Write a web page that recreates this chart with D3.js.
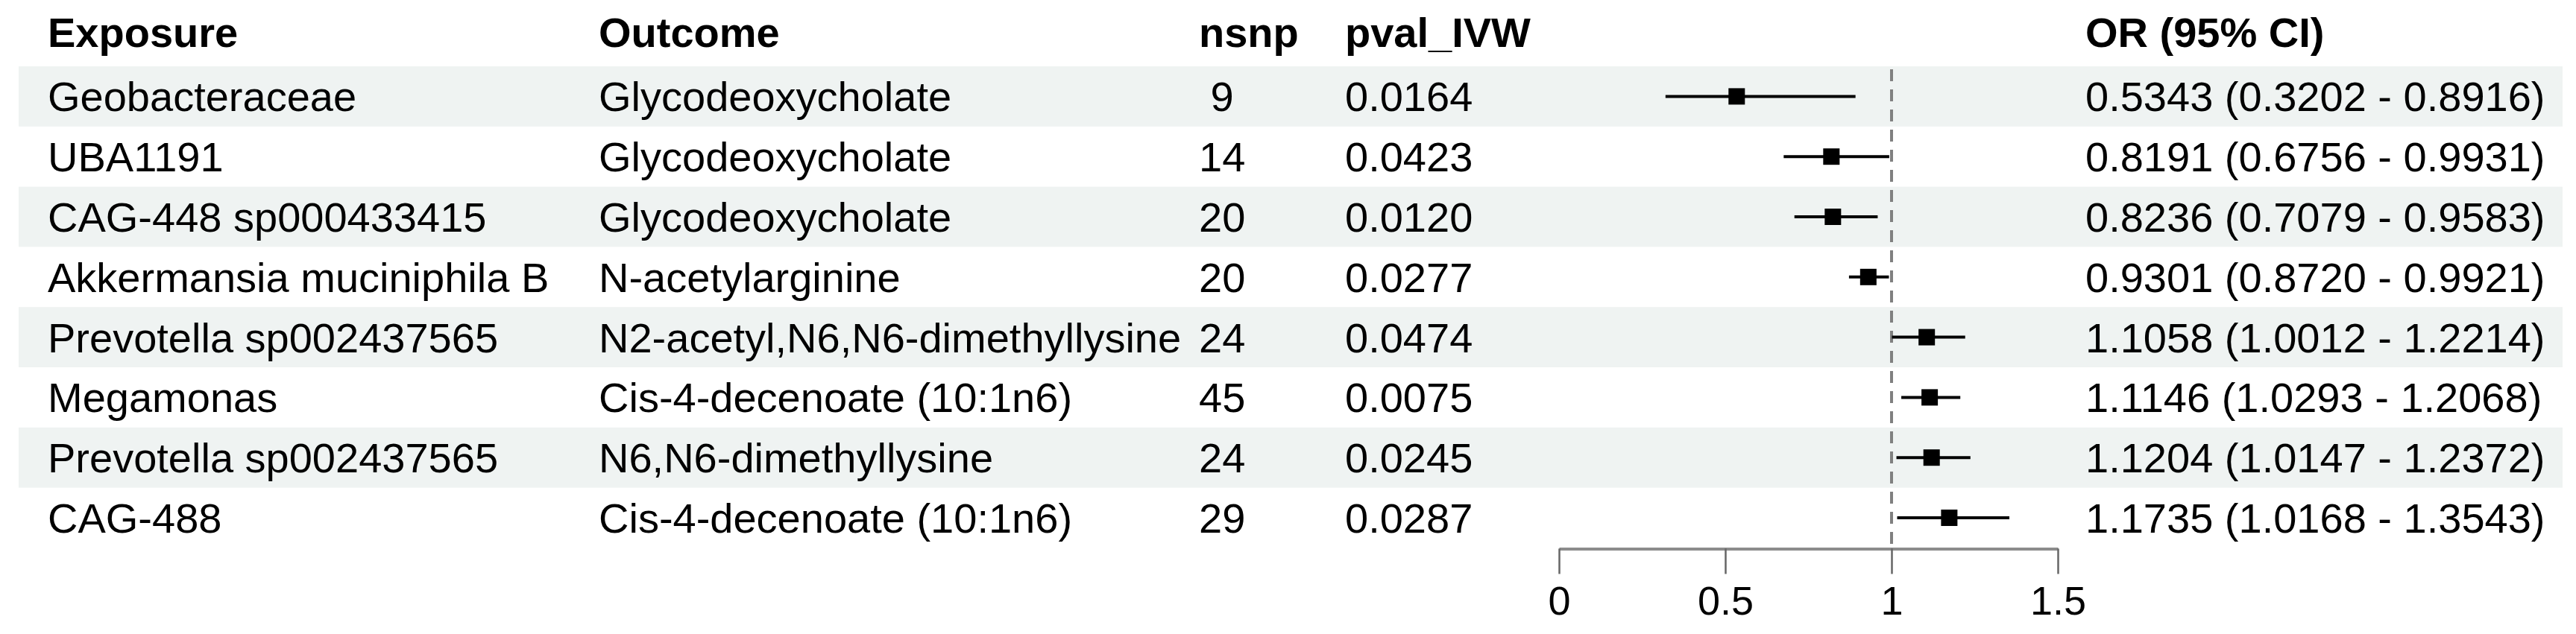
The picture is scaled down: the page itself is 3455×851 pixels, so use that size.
<!DOCTYPE html>
<html>
<head>
<meta charset="utf-8">
<script src="https://cdn.jsdelivr.net/npm/d3@7"></script>
<style>
  html, body { margin: 0; padding: 0; background: #ffffff; }
  svg { display: block; }
  text { font-family: "Liberation Sans", Arial, Helvetica, sans-serif; fill: #000; white-space: pre; }
</style>
</head>
<body>
<div id="chart"></div>
<script>
// ---- data ----
const headers = ["Exposure", "Outcome", "nsnp", "pval_IVW", "OR (95% CI)"];
const exposures = ["Geobacteraceae", "UBA1191", "CAG-448 sp000433415", "Akkermansia muciniphila B",
  "Prevotella sp002437565", "Megamonas", "Prevotella sp002437565", "CAG-488"];
const outcomes = ["Glycodeoxycholate", "Glycodeoxycholate", "Glycodeoxycholate", "N-acetylarginine",
  "N2-acetyl,N6,N6-dimethyllysine", "Cis-4-decenoate (10:1n6)", "N6,N6-dimethyllysine", "Cis-4-decenoate (10:1n6)"];
const nsnp = [" 9", "14", "20", "20", "24", "45", "24", "29"];
const pvals = ["0.0164", "0.0423", "0.0120", "0.0277", "0.0474", "0.0075", "0.0245", "0.0287"];
const orValues = [0.5343, 0.8191, 0.8236, 0.9301, 1.1058, 1.1146, 1.1204, 1.1735];
const lowerCI = [0.3202, 0.6756, 0.7079, 0.8720, 1.0012, 1.0293, 1.0147, 1.0168];
const upperCI = [0.8916, 0.9931, 0.9583, 0.9921, 1.2214, 1.2068, 1.2372, 1.3543];
const xTicks = [0, 0.5, 1, 1.5];
const refValue = 1;

// ---- layout ----
const W = 3455, H = 851;
const fs = 56;
const colX = [64, 803, 1608, 1804, 2797];
const rowsTop = 89, rowsBottom = 735.4;
const stripeX0 = 25, stripeX1 = 3437;
const squareSize = 22;

const svg = d3.select("#chart").append("svg")
  .attr("width", W).attr("height", H);

const idx = d3.range(exposures.length);
const y = d3.scaleBand().domain(idx).range([rowsTop, rowsBottom]).padding(0);
const x = d3.scaleLinear().domain([0, 1.5]).range([2091, 2760]);

// stripes
svg.append("g").selectAll("rect").data(idx.filter(i => i % 2 === 0)).join("rect")
  .attr("x", stripeX0).attr("width", stripeX1 - stripeX0)
  .attr("y", i => y(i)).attr("height", y.bandwidth())
  .attr("fill", "#eff3f2");

// header
svg.append("g").selectAll("text").data(headers).join("text")
  .attr("x", (d, i) => colX[i]).attr("y", 63)
  .attr("font-size", fs).attr("font-weight", "bold")
  .text(d => d);

// table columns
const orText = idx.map(i => orValues[i].toFixed(4) + " (" + lowerCI[i].toFixed(4) + " - " + upperCI[i].toFixed(4) + ")");
const columns = [exposures, outcomes, nsnp, pvals, orText];
const baseOff = 0.358 * fs;
columns.forEach((col, c) => {
  svg.append("g").selectAll("text").data(col).join("text")
    .attr("x", colX[c])
    .attr("y", (d, i) => y(i) + y.bandwidth() / 2 + baseOff)
    .attr("font-size", fs)
    .text(d => d);
});

// reference dashed line
svg.append("line")
  .attr("x1", x(refValue)).attr("x2", x(refValue))
  .attr("y1", rowsTop + 4).attr("y2", rowsBottom)
  .attr("stroke", "#808080").attr("stroke-width", 4)
  .attr("stroke-dasharray", "16,11");

// CI lines
svg.append("g").selectAll("line").data(idx).join("line")
  .attr("x1", i => x(lowerCI[i])).attr("x2", i => x(upperCI[i]))
  .attr("y1", i => y(i) + y.bandwidth() / 2).attr("y2", i => y(i) + y.bandwidth() / 2)
  .attr("stroke", "#000").attr("stroke-width", 4);

// squares
svg.append("g").selectAll("rect").data(idx).join("rect")
  .attr("x", i => x(orValues[i]) - squareSize / 2)
  .attr("y", i => y(i) + y.bandwidth() / 2 - squareSize / 2)
  .attr("width", squareSize).attr("height", squareSize)
  .attr("fill", "#000");

// axis
const axis = d3.axisBottom(x).tickValues(xTicks).tickSize(34).tickSizeOuter(0).tickPadding(16)
  .tickFormat(d3.format("~g"));
const gAxis = svg.append("g").attr("transform", `translate(0,${rowsBottom + 1})`).call(axis);
gAxis.select(".domain").attr("stroke", "#8c8c8c").attr("stroke-width", 4);
gAxis.selectAll(".tick line").attr("stroke", "#666").attr("stroke-width", 2.5);
gAxis.selectAll(".tick text")
  .attr("font-size", 54)
  .attr("font-family", "Liberation Sans, Arial, sans-serif")
  .attr("fill", "#000");
</script>
</body>
</html>
